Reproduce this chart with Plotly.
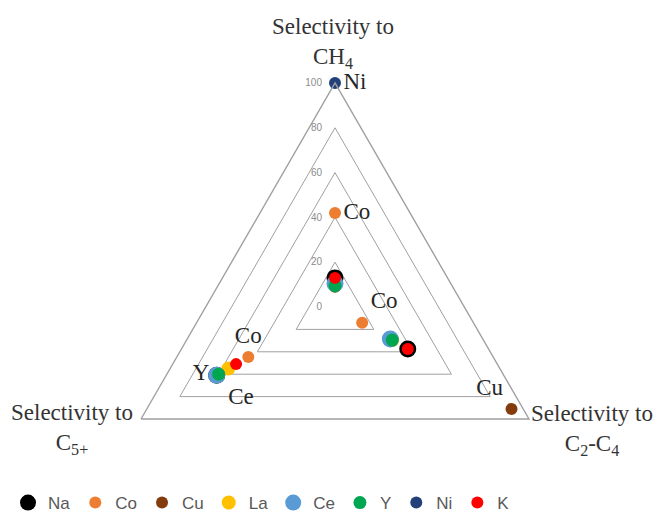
import plotly.graph_objects as go

# The page is rendered with an 8px body margin, so figure coordinates are
# screenshot coordinates minus 8.
W, H = 646, 530

# ---------------- data ----------------
axis_keys = ["CH4", "C2-C4", "C5+"]
series_names = ["Na", "Co", "Cu", "La", "Ce", "Y", "Ni", "K"]
sel_ch4 = [13, 42, 9, 10.5, 10.5, 9.5, 100, 13]
sel_c2c4 = [37.5, 14, 91, 29.5, 28.5, 29.5, None, 37.5]
sel_c5 = [61, 44.7, None, 55, 61, 60, None, 51]
radial_ticks = [0, 20, 40, 60, 80, 100]

# point labels: (series, axis index, text position)
point_labels = [
    ("Ni", 0, "middle right"),
    ("Co", 0, "middle right"),
    ("Co", 1, "top right"),
    ("Cu", 1, "top left"),
    ("Co", 2, "top center"),
    ("Y", 2, "middle left"),
    ("Ce", 2, "bottom right"),
]

axis_titles = [
    "Selectivity to<br>CH<sub>4</sub>",
    "Selectivity to<br>C<sub>2</sub>-C<sub>4</sub>",
    "Selectivity to<br>C<sub>5+</sub>",
]

# ---------------- style ----------------
colors = {
    "Na": "#000000", "Co": "#ED7D31", "Cu": "#843C0C", "La": "#FFC000",
    "Ce": "#5B9BD5", "Y": "#00A650", "Ni": "#22407A", "K": "#FF0000",
}
sizes = {"Na": 17, "Co": 12, "Cu": 12, "La": 14, "Ce": 17, "Y": 13, "Ni": 12, "K": 12}
GRID = "#a0a0a0"
SERIF = "Liberation Serif, Times New Roman, serif"

# polar geometry (figure pixels)
CX, CY, R = 327, 299, 224

fig = go.Figure()

values = list(zip(sel_ch4, sel_c2c4, sel_c5))
for name, vals in zip(series_names, values):
    texts = ["", "", ""]
    positions = ["middle right"] * 3
    for s, ai, pos in point_labels:
        if s == name:
            texts[ai] = s
            positions[ai] = pos
    fig.add_trace(go.Scatterpolar(
        r=list(vals), theta=axis_keys, name=name,
        mode="markers+text", text=texts, textposition=positions,
        textfont=dict(family=SERIF, size=23, color="#262626"),
        marker=dict(color=colors[name], size=sizes[name], line=dict(width=0)),
        cliponaxis=False,
    ))

fig.update_layout(
    width=W, height=H,
    margin=dict(l=0, r=0, t=0, b=0),
    paper_bgcolor="white", plot_bgcolor="white",
    polar=dict(
        domain=dict(x=[(CX - R) / W, (CX + R) / W],
                    y=[1 - (CY + R) / H, 1 - (CY - R) / H]),
        gridshape="linear",
        bgcolor="rgba(0,0,0,0)",
        radialaxis=dict(
            range=[0, 100], tickvals=radial_ticks, showgrid=True,
            gridcolor=GRID, gridwidth=1.4,
            showline=False, ticks="outside", ticklen=9,
            tickcolor="rgba(0,0,0,0)", angle=90, side="counterclockwise",
            tickangle=90,
            tickfont=dict(family="Liberation Sans, Arial", size=10, color="#8c8c8c"),
        ),
        angularaxis=dict(
            type="category", categoryarray=axis_keys, direction="clockwise",
            rotation=90, showgrid=False, showline=True, linecolor=GRID,
            linewidth=1.4, showticklabels=False, ticks="",
        ),
    ),
    showlegend=True,
    legend=dict(
        orientation="h", x=0, xanchor="left", y=1 - 495 / H, yanchor="middle",
        itemwidth=30,
        font=dict(family="Liberation Sans, Arial", size=17, color="#595959"),
        bgcolor="rgba(0,0,0,0)",
    ),
    hovermode=False,
    annotations=[
        dict(text=axis_titles[0], x=325 / W, y=1 - 35 / H, xref="paper", yref="paper",
             xanchor="center", yanchor="middle", showarrow=False,
             font=dict(family=SERIF, size=23, color="#333333")),
        dict(text=axis_titles[1], x=584 / W, y=1 - 422 / H, xref="paper", yref="paper",
             xanchor="center", yanchor="middle", showarrow=False,
             font=dict(family=SERIF, size=23, color="#333333")),
        dict(text=axis_titles[2], x=64 / W, y=1 - 421 / H, xref="paper", yref="paper",
             xanchor="center", yanchor="middle", showarrow=False,
             font=dict(family=SERIF, size=23, color="#333333")),
    ],
)

fig.write_html("out.html")
